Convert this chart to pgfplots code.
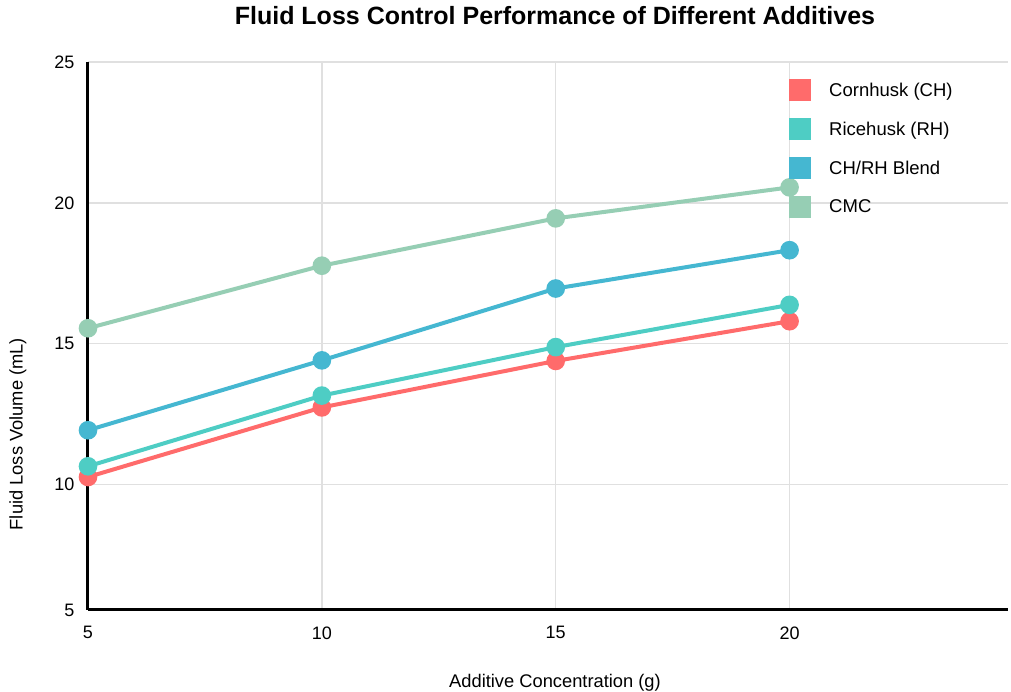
\documentclass[border=0pt]{standalone}
\usepackage{fontspec}
\setmainfont{Liberation Sans}
\usepackage{pgfplots}
\pgfplotsset{compat=1.18}
\definecolor{chc}{HTML}{FF6B6B}
\definecolor{rhc}{HTML}{4ECDC4}
\definecolor{blc}{HTML}{45B7D1}
\definecolor{cmc}{HTML}{96CEB4}
\definecolor{gridgray}{HTML}{E0E0E0}
\begin{document}
\begin{tikzpicture}
\path[use as bounding box] (-88pt,-82pt) rectangle (923pt,610pt);
\begin{axis}[
  width=920pt, height=548pt, scale only axis,
  xmin=5, xmax=24.67, ymin=5.55, ymax=25,
  xtick={5,10,15,20}, ytick={10,15,20,25},
  extra y ticks={5.55}, extra y tick labels={5},
  extra y tick style={grid=none},
  grid=major, major grid style={color=gridgray, line width=1.3pt},
  axis x line*=bottom, axis y line*=left,
  axis line style={line width=3pt, black, -},
  major tick length=0pt,
  tick label style={font=\fontsize{18}{20}\selectfont},
  /pgf/number format/assume math mode=true,
  xticklabel style={yshift=-13pt},
  yticklabel style={xshift=-10pt},
  xlabel={Additive Concentration (g)},
  ylabel={Fluid Loss Volume (mL)},
  label style={font=\fontsize{18.3}{22}\selectfont},
  xlabel style={at={(axis description cs:0.5076,-0.1332)}, anchor=center},
  ylabel style={at={(axis description cs:-0.0761,0.321)}, anchor=center},
  title={Fluid Loss Control Performance of Different Additives},
  title style={at={(axis description cs:0.5076,1.073)}, anchor=center, font=\fontsize{25}{30}\selectfont\bfseries},
  clip=false,
  legend style={at={(rel axis cs:0.7620,0.9690)}, anchor=north west, draw=none, fill=none,
    inner sep=0pt, row sep=17pt, font=\fontsize{18.5}{22}\selectfont, nodes={inner sep=0pt}},
  legend cell align=left,
  legend image code/.code={\fill[draw=none] (0pt,-11pt) rectangle (22pt,11pt); \path[draw=none] (0pt,0pt) -- (40pt,0pt);},
  every axis plot/.append style={line width=4pt, mark=*, mark size=7.3pt, mark options={draw=none}},
]
\addplot[color=chc] coordinates {(5,10.27) (10,12.74) (15,14.39) (20,15.80)};
\addlegendentry{Cornhusk (CH)}
\addplot[color=rhc] coordinates {(5,10.65) (10,13.16) (15,14.88) (20,16.38)};
\addlegendentry{Ricehusk (RH)}
\addplot[color=blc] coordinates {(5,11.93) (10,14.41) (15,16.96) (20,18.32)};
\addlegendentry{CH/RH Blend}
\addplot[color=cmc] coordinates {(5,15.55) (10,17.77) (15,19.45) (20,20.55)};
\addlegendentry{CMC}
\end{axis}
\end{tikzpicture}
\end{document}
